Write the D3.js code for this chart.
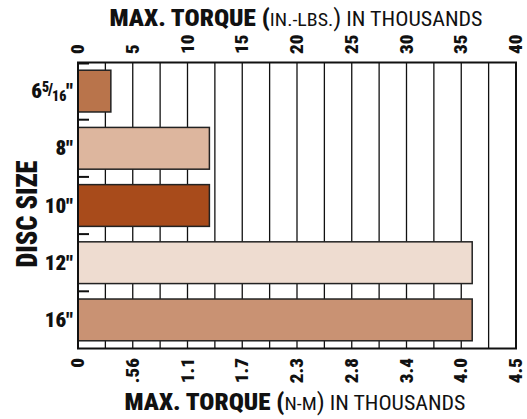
<!DOCTYPE html>
<html lang="en">
    <head>
        <meta charset="utf-8">
        <title>Max Torque by Disc Size</title>
        <script type="text/javascript" src="https://d3js.org/d3.v7.min.js"></script>
        <style type="text/css">
          body{ margin:0; background:#fff; }
          svg{ width:527px; height:419px; display:block; }
          text{ font-family:"Liberation Sans Narrow","Arial Narrow","Roboto Condensed","Liberation Sans",sans-serif; fill:#111; }
        </style>
    </head>
    <body>
      <svg></svg>
      <script type="text/javascript">

        // data
        const discSizes = ["6 5/16", "8", "10", "12", "16"];
        const torqueK = [3, 12, 12, 36, 36];   // in.-lbs., thousands
        const barColors = ["#b9744b", "#ddb69e", "#a84b1b", "#eedcd0", "#c99273"];
        const topTicks = [0, 5, 10, 15, 20, 25, 30, 35, 40];
        const bottomTickLabels = ["0", ".56", "1.1", "1.7", "2.3", "2.8", "3.4", "4.0", "4.5"];
        const gridStep = 2.5;

        const svg = d3.select("svg");
        const plotL = 78, plotR = 516, plotT = 62.5, plotB = 348.5;

        const x = d3.scaleLinear().domain([0, 40]).range([plotL, plotR]);
        const y = d3.scaleBand().domain(discSizes).range([plotT, plotB])
                    .paddingInner(0.27).paddingOuter(0.135);

        // grid lines
        svg.append("g").selectAll("line")
           .data(d3.range(gridStep, 40, gridStep))
           .join("line")
           .attr("x1", d => x(d)).attr("x2", d => x(d))
           .attr("y1", plotT).attr("y2", plotB)
           .attr("stroke", "#111").attr("stroke-width", 1.3);

        // bars
        svg.append("g").selectAll("rect")
           .data(discSizes)
           .join("rect")
           .attr("x", x(0))
           .attr("y", d => y(d))
           .attr("width", (d, i) => x(torqueK[i]) - x(0))
           .attr("height", y.bandwidth())
           .attr("fill", (d, i) => barColors[i])
           .attr("stroke", "#222").attr("stroke-width", 1.5);

        // short ticks on left edge between bands
        const gap = y.step() * y.paddingInner();
        svg.append("g").selectAll("line")
           .data(discSizes)
           .join("line")
           .attr("x1", plotL).attr("x2", plotL + 11)
           .attr("y1", (d, i) => i === 0 ? plotT + 1 : y(d) - gap / 2)
           .attr("y2", (d, i) => i === 0 ? plotT + 1 : y(d) - gap / 2)
           .attr("stroke", "#111").attr("stroke-width", 2);

        // frame
        svg.append("rect")
           .attr("x", plotL).attr("y", plotT)
           .attr("width", plotR - plotL).attr("height", plotB - plotT)
           .attr("fill", "none").attr("stroke", "#111").attr("stroke-width", 2);

        // top tick labels (rotated)
        svg.append("g").selectAll("text")
           .data(topTicks)
           .join("text")
           .attr("transform", d => `translate(${x(d) + 6},54) rotate(-90)`)
           .attr("text-anchor", "start")
           .attr("font-size", 19).attr("font-weight", "900")
           .text(d => d);

        // bottom tick labels (rotated)
        svg.append("g").selectAll("text")
           .data(bottomTickLabels)
           .join("text")
           .attr("transform", (d, i) => `translate(${x(topTicks[i]) + 6},358) rotate(-90)`)
           .attr("text-anchor", "end")
           .attr("font-size", 19).attr("font-weight", "900")
           .text(d => d);

        // category labels
        const catLab = svg.append("g").selectAll("text")
           .data(discSizes)
           .join("text")
           .attr("x", 73)
           .attr("y", d => y(d) + y.bandwidth() / 2 + 7)
           .attr("text-anchor", "end")
           .attr("font-size", 21).attr("font-weight", "900");
        catLab.each(function(d) {
            const t = d3.select(this);
            if (d.includes(" ")) {
                const [whole, frac] = d.split(" ");
                const [n, m] = frac.split("/");
                t.append("tspan").text(whole);
                t.append("tspan").attr("font-size", 14).attr("dy", -6).text(n);
                t.append("tspan").attr("font-size", 16).attr("dy", 3).attr("dx", -1).text("/");
                t.append("tspan").attr("font-size", 14).attr("dy", 6).attr("dx", -1).text(m);
                t.append("tspan").attr("dy", -3).text("\"");
            } else {
                t.text(d + "\"");
            }
        });

        // axis titles
        const title = svg.append("text")
           .attr("x", 296).attr("y", 26)
           .attr("text-anchor", "middle").attr("font-size", 24)
           .attr("textLength", 373).attr("lengthAdjust", "spacingAndGlyphs");
        title.append("tspan").attr("font-weight", "900").text("MAX. TORQUE (");
        title.append("tspan").attr("font-size", 19).text("IN.-LBS.");
        title.append("tspan").text(")");
        title.append("tspan").attr("font-size", 21).text(" IN THOUSANDS");

        const xTitle = svg.append("text")
           .attr("x", 295).attr("y", 410)
           .attr("text-anchor", "middle").attr("font-size", 24)
           .attr("textLength", 341).attr("lengthAdjust", "spacingAndGlyphs");
        xTitle.append("tspan").attr("font-weight", "900").text("MAX. TORQUE (");
        xTitle.append("tspan").attr("font-size", 19).text("N-M");
        xTitle.append("tspan").text(")");
        xTitle.append("tspan").attr("font-size", 21).text(" IN THOUSANDS");

        svg.append("text")
           .attr("transform", "translate(37,214) rotate(-90)")
           .attr("text-anchor", "middle")
           .attr("font-size", 30).attr("font-weight", "900")
           .attr("textLength", 107).attr("lengthAdjust", "spacingAndGlyphs")
           .text("DISC SIZE");

      </script>
    </body>
</html>
